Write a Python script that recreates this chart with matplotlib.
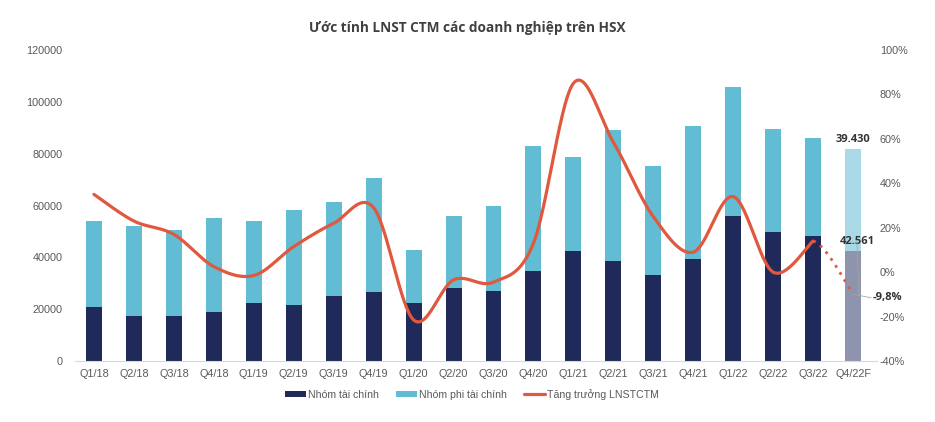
import numpy as np
import matplotlib
matplotlib.use("Agg")
import matplotlib.pyplot as plt

plt.rcParams['font.family'] = ['Liberation Sans Narrow', 'Liberation Sans', 'DejaVu Sans']

# dữ liệu
quarters = ["Q1/18", "Q2/18", "Q3/18", "Q4/18", "Q1/19", "Q2/19", "Q3/19", "Q4/19",
            "Q1/20", "Q2/20", "Q3/20", "Q4/20", "Q1/21", "Q2/21", "Q3/21", "Q4/21",
            "Q1/22", "Q2/22", "Q3/22", "Q4/22F"]
tai_chinh = [21000, 17500, 17500, 19000, 22200, 21500, 25000, 26500,
             22500, 28000, 27000, 34700, 42500, 38500, 33200, 39400,
             55800, 49600, 48200, 42561]
tong = [54000, 52000, 50500, 55000, 54000, 58300, 61500, 70500,
        42700, 56000, 59800, 82800, 78600, 89000, 75300, 90700,
        105700, 89500, 86200, 81991]
phi_tai_chinh = [t - f for t, f in zip(tong, tai_chinh)]
tang_truong = [35, 23, 17, 2.5, -1.5, 11.5, 22, 29,
               -21.5, -3.5, -4.5, 13, 85, 58.5, 25, 9,
               34, 0, 14, -9.8]

c_dark = '#1F2A5A'
c_light = '#62BCD3'
c_red = '#E0583E'

def catmull_rom(x, y, n=30):
    pts = np.column_stack([x, y]).astype(float)
    pts = np.vstack([pts[0], pts, pts[-1]])
    out = []
    for i in range(1, len(pts) - 2):
        p0, p1, p2, p3 = pts[i - 1], pts[i], pts[i + 1], pts[i + 2]
        t = np.linspace(0, 1, n)[:, None]
        seg = 0.5 * ((2 * p1) + (-p0 + p2) * t + (2 * p0 - 5 * p1 + 4 * p2 - p3) * t ** 2
                     + (-p0 + 3 * p1 - 3 * p2 + p3) * t ** 3)
        out.append(seg)
    out = np.vstack(out)
    return out[:, 0], out[:, 1]

fig = plt.figure(figsize=(9.35, 4.22), dpi=100)
ax = fig.add_axes([0.080, 0.1445, 0.858, 0.737])
x = np.arange(len(quarters))
w = 0.4

col_dark = [c_dark] * (len(x) - 1) + ['#8E93AE']
col_light = [c_light] * (len(x) - 1) + ['#A9D9E7']
ax.bar(x, tai_chinh, w, color=col_dark, label="Nhóm tài chính", zorder=2)
ax.bar(x, phi_tai_chinh, w, bottom=tai_chinh, color=col_light, label="Nhóm phi tài chính", zorder=2)

ax.set_ylim(0, 120000)
ax.set_yticks(np.arange(0, 120001, 20000))
ax.set_xlim(-0.48, 19.6)
ax.set_xticks(x)
ax.set_xticklabels(quarters)
ax.tick_params(axis='both', length=0, labelsize=7.8, colors='#595959')
ax.tick_params(axis='x', pad=6)
ax.tick_params(axis='y', pad=9)
for s in ['top', 'left', 'right']:
    ax.spines[s].set_visible(False)
ax.spines['bottom'].set_color('#D9D9D9')

ax2 = ax.twinx()
ax2.set_ylim(-40, 100)
ax2.set_yticks(np.arange(-40, 101, 20))
ax2.set_yticklabels([f"{v}%" for v in range(-40, 101, 20)])
ax2.tick_params(axis='y', length=0, labelsize=7.8, colors='#595959', pad=2)
for s in ['top', 'left', 'right', 'bottom']:
    ax2.spines[s].set_visible(False)

sx, sy = catmull_rom(x[:-1], tang_truong[:-1])
ax2.plot(sx, sy, color=c_red, lw=2.3, label="Tăng trưởng LNSTCTM", zorder=3,
         solid_capstyle='round')
dx, dy = catmull_rom(x[-3:], tang_truong[-3:])
m = dx >= x[-2]
ax2.plot(dx[m], dy[m], color=c_red, lw=2, ls=(0, (1, 2)), zorder=3)

# nhãn
ax.text(x[-1], tong[-1] + 1500, "39.430", ha='center', va='bottom', fontsize=8,
        fontweight='bold', color='#333333', family=['Open Sans', 'DejaVu Sans'])
ax.text(x[-1] + 0.1, tai_chinh[-1] + 1500, "42.561", ha='center', va='bottom', fontsize=8,
        fontweight='bold', color='#333333', family=['Open Sans', 'DejaVu Sans'])
ax2.plot([x[-1] + 0.1, x[-1] + 0.15], [13.5, -10.5], color='#A6A6A6', lw=0.6, zorder=4)
ax2.plot([x[-1] - 0.05, x[-1] + 0.45], [-9.8, -11.5], color='#A6A6A6', lw=0.6, zorder=4)
ax2.text(x[-1] + 0.5, -11.5, "-9,8%", ha='left', va='center', fontsize=8,
         fontweight='bold', color='#333333', family=['Open Sans', 'DejaVu Sans'])

fig.suptitle("Ước tính LNST CTM các doanh nghiệp trên HSX", y=0.95, fontsize=9.8,
             fontweight='bold', color='#404040', family=['Open Sans', 'DejaVu Sans'])

h1, l1 = ax.get_legend_handles_labels()
h2, l2 = ax2.get_legend_handles_labels()
leg = fig.legend(h1 + h2[:1], l1 + l2[:1], loc='center', bbox_to_anchor=(0.505, 0.066), ncol=3,
                 frameon=False, fontsize=7.6, handlelength=2.0, handleheight=0.6,
                 columnspacing=1.6, handletextpad=0.2)
for t in leg.get_texts():
    t.set_color('#595959')

fig.savefig("out.png", dpi=100, facecolor='white')
